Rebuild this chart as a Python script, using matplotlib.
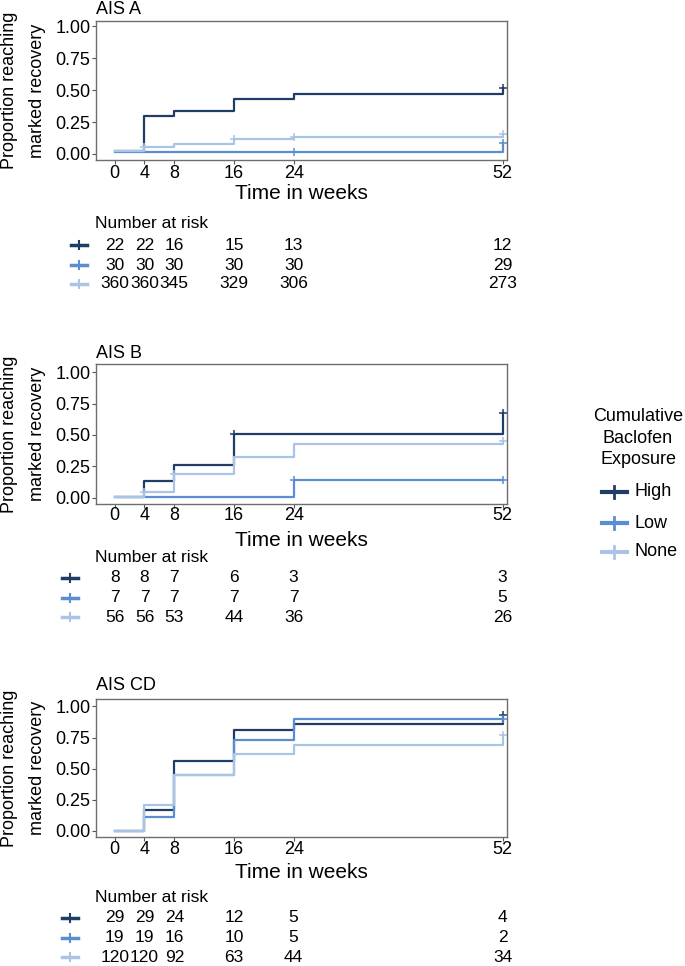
import matplotlib
matplotlib.use("Agg")
import matplotlib.pyplot as plt
from matplotlib.lines import Line2D
from matplotlib.transforms import blended_transform_factory

plt.rcParams['font.family'] = ['Liberation Sans', 'DejaVu Sans']

W, H = 685, 966

# ================= data =================
times = [0, 4, 8, 16, 24, 52]
groups = ['High', 'Low', 'None']
colors = ['#1f3d66', '#5b8ed0', '#aac4e6']
panel_titles = ['AIS A', 'AIS B', 'AIS CD']

# cumulative proportion reaching marked recovery, value held from each time
a_high = [0.026, 0.297, 0.336, 0.432, 0.471, 0.513]
a_low = [0.018, 0.018, 0.018, 0.018, 0.018, 0.088]
a_none = [0.026, 0.057, 0.078, 0.115, 0.135, 0.160]

b_high = [0.008, 0.130, 0.258, 0.505, 0.505, 0.673]
b_low = [0.008, 0.008, 0.008, 0.008, 0.140, 0.140]
b_none = [0.008, 0.043, 0.190, 0.327, 0.428, 0.450]

c_high = [0.0, 0.17, 0.56, 0.81, 0.86, 0.93]
c_low = [0.0, 0.11, 0.45, 0.73, 0.90, 0.90]
c_none = [0.0, 0.21, 0.45, 0.62, 0.69, 0.77]

# censor marks: times per group
a_cens = [[52], [24, 52], [4, 16, 24, 52]]
b_cens = [[16, 52], [24, 52], [4, 8, 52]]
c_cens = [[52], [52], [52]]

# number at risk
a_risk = [[22, 22, 16, 15, 13, 12], [30, 30, 30, 30, 30, 29], [360, 360, 345, 329, 306, 273]]
b_risk = [[8, 8, 7, 6, 3, 3], [7, 7, 7, 7, 7, 5], [56, 56, 53, 44, 36, 26]]
c_risk = [[29, 29, 24, 12, 5, 4], [19, 19, 16, 10, 5, 2], [120, 120, 92, 63, 44, 34]]

panels = [
    ([a_high, a_low, a_none], a_cens, a_risk),
    ([b_high, b_low, b_none], b_cens, b_risk),
    ([c_high, c_low, c_none], c_cens, c_risk),
]

# ================= layout (pixels) =================
# axes: top, bottom, ylim low, ylim high
boxes = [(21, 160, -0.047, 1.04), (364, 504, -0.05, 1.065), (699, 837, -0.05, 1.06)]
title_y = [10, 353, 685]
tick_y = [173, 516, 850]
xlabel_y = [193, 540, 873]
risk_y = [(223, [245, 265, 284], 79), (557, [578, 598, 617], 70), (897, [918, 938, 957], 70)]
AX_L, AX_R = 96, 507


def fx(px):
    return px / W


def fy(py):
    return 1 - py / H


fig = plt.figure(figsize=(W / 100, H / 100), dpi=100)

for i, (series, cens, risk) in enumerate(panels):
    top, bot, ylo, yhi = boxes[i]
    ax = fig.add_axes([fx(AX_L), fy(bot), fx(AX_R - AX_L), (bot - top) / H])
    for vals, cz, col in zip(series, cens, colors):
        ax.step(times, vals, where='post', color=col, lw=1.6)
        cy = [vals[times.index(t)] for t in cz]
        ax.plot(cz, cy, '+', color=col, ms=6, mew=1.1, ls='none')
    ax.set_xlim(-2.5, 52.6)
    ax.set_ylim(ylo, yhi)
    ax.set_xticks(times)
    ax.set_yticks([0, 0.25, 0.5, 0.75, 1.0])
    ax.set_yticklabels(['0.00', '0.25', '0.50', '0.75', '1.00'])
    ax.set_xticklabels([])
    ax.tick_params(axis='both', length=3, width=0.8, color='#555555', labelsize=13, pad=1)
    for sp in ax.spines.values():
        sp.set_color('#6e6e6e')
        sp.set_linewidth(1.0)

    trans = blended_transform_factory(ax.transData, fig.transFigure)
    for t in times:
        fig.text(t, fy(tick_y[i]), str(t), transform=trans, ha='center', va='center', fontsize=13)
    fig.text(fx((AX_L + AX_R) / 2), fy(xlabel_y[i]), 'Time in weeks', ha='center', va='center', fontsize=15)
    fig.text(fx(AX_L), fy(title_y[i]), panel_titles[i], ha='left', va='center', fontsize=13)

    cy_mid = (top + bot) / 2
    fig.text(fx(10), fy(cy_mid), 'Proportion reaching', rotation=90, ha='center', va='center', fontsize=13)
    fig.text(fx(37), fy(cy_mid), 'marked recovery', rotation=90, ha='center', va='center', fontsize=13)

    # number at risk table
    hy, rows_y, mx = risk_y[i]
    fig.text(fx(AX_L - 1), fy(hy), 'Number at risk', ha='left', va='center', fontsize=12.5)
    for row, ry, col in zip(risk, rows_y, colors):
        fig.add_artist(Line2D([fx(mx - 8), fx(mx + 8)], [fy(ry), fy(ry)], color=col, lw=2.5))
        fig.add_artist(Line2D([fx(mx), fx(mx)], [fy(ry - 4), fy(ry + 4)], color=col, lw=1.5))
        for t, n in zip(times, row):
            fig.text(t, fy(ry), str(n), transform=trans, ha='center', va='center', fontsize=12.5)

# ================= legend =================
for ty, txt in zip([416, 438, 460], ['Cumulative', 'Baclofen', 'Exposure']):
    fig.text(fx(638), fy(ty), txt, ha='center', va='center', fontsize=13)
for ly, g, col in zip([492, 523, 552], groups, colors):
    fig.add_artist(Line2D([fx(602), fx(627)], [fy(ly), fy(ly)], color=col, lw=3))
    fig.add_artist(Line2D([fx(614), fx(614)], [fy(ly - 6), fy(ly + 6)], color=col, lw=2))
    fig.text(fx(635), fy(ly), g, ha='left', va='center', fontsize=13)

fig.savefig('out.png', dpi=100)
